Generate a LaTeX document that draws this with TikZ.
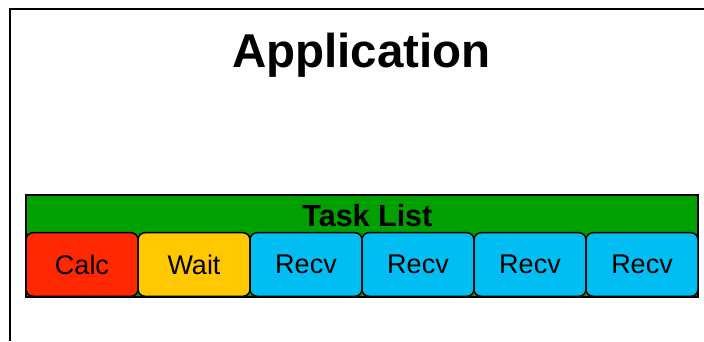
\documentclass[tikz,border=0pt]{standalone}
\usepackage{fontspec}
\setmainfont{Liberation Sans}
\definecolor{listgreen}{RGB}{0,160,0}
\definecolor{calcred}{RGB}{255,40,0}
\definecolor{waityellow}{RGB}{255,200,0}
\definecolor{recvblue}{RGB}{0,190,242}
\begin{document}
\begin{tikzpicture}[x=1pt,y=1pt,
  taskbox/.style={draw=black,line width=1.5pt,rounded corners=7pt,
    minimum width=112pt,minimum height=63.6pt,inner sep=0pt,outer sep=0pt,
    font=\fontsize{27}{31}\selectfont},
  listbox/.style={draw=black,line width=2pt,fill=listgreen,inner sep=0pt,
    minimum width=672.2pt,minimum height=102pt}]
\useasboundingbox (0,0) rectangle (704,341);
% application frame (open to the right and bottom)
\draw[line width=2.5pt,line join=miter] (10,0) -- (10,332) -- (704,332);
% title
\node[anchor=base,font=\fontsize{47.5}{54}\selectfont\bfseries] (title) at (361.5,274) {Application};
% task list container
\node[listbox] (list) at (361.6,95) {};
\node[anchor=base,font=\fontsize{30.5}{35}\selectfont\bfseries] (listlabel) at (367.4,114.3) {Task List};
% tasks
\node[taskbox,fill=calcred]    (t1) at (82,76.5)  {Calc};
\node[taskbox,fill=waityellow] (t2) at (194,76.5) {Wait};
\node[taskbox,fill=recvblue]   (t3) at (306,76.5) {Recv};
\node[taskbox,fill=recvblue]   (t4) at (418,76.5) {Recv};
\node[taskbox,fill=recvblue]   (t5) at (530,76.5) {Recv};
\node[taskbox,fill=recvblue]   (t6) at (642,76.5) {Recv};
\end{tikzpicture}
\end{document}
